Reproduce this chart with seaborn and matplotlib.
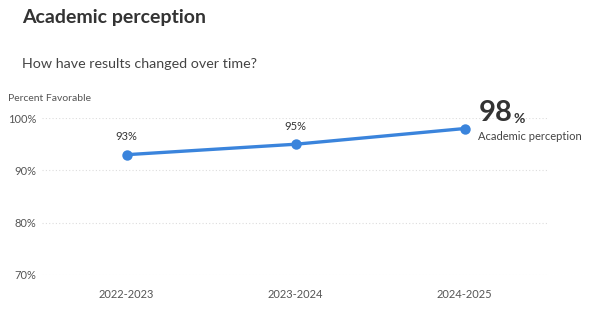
import matplotlib
matplotlib.use("Agg")
import matplotlib.pyplot as plt
import seaborn as sns
import pandas as pd

years = ["2022-2023", "2023-2024", "2024-2025"]
values = [93, 95, 98]
y_ticks = [70, 80, 90, 100]
y_tick_labels = ["70%", "80%", "90%", "100%"]
title = "Academic perception"
subtitle = "How have results changed over time?"
y_label = "Percent Favorable"
series_name = "Academic perception"

sns.set_theme(style="white")
plt.rcParams["font.family"] = ["Lato", "DejaVu Sans"]

df = pd.DataFrame({"year": years, "value": values})
line_color = "#3a84dc"

fig = plt.figure(figsize=(6, 3.28), dpi=100)
ax = fig.add_axes([0.07, 0.1616, 0.845, 0.4784])

sns.lineplot(data=df, x="year", y="value", ax=ax, color=line_color,
             linewidth=2.4, marker="o", markersize=7.5, markeredgewidth=0,
             sort=False, clip_on=False)

ax.set_xlim(-0.5, 2.5)
ax.set_ylim(70, 100)
ax.set_yticks(y_ticks)
ax.set_yticklabels(y_tick_labels)
ax.set_xlabel("")
ax.set_ylabel("")
for s in ax.spines.values():
    s.set_visible(False)
ax.grid(axis="y", linestyle=(0, (1, 2)), color="#dddddd", linewidth=0.8)
ax.set_axisbelow(True)
ax.tick_params(axis="y", labelsize=8, colors="#555555", pad=4, length=0)
ax.tick_params(axis="x", labelsize=8, colors="#555555", pad=10, length=0)

# Point labels (all but last)
for i, v in enumerate(values[:-1]):
    ax.annotate(f"{v}%", xy=(i, v), xytext=(0, 9), textcoords="offset points",
                ha="center", va="bottom", fontsize=8, color="#333333")

# Last point callout
last_i = len(values) - 1
ax.annotate(f"{values[-1]}", xy=(last_i, values[-1]), xytext=(10, 2),
            textcoords="offset points", ha="left", va="bottom",
            fontsize=21, fontweight="bold", color="#333333")
ax.annotate("%", xy=(last_i, values[-1]), xytext=(35, 2.5),
            textcoords="offset points", ha="left", va="bottom",
            fontsize=10, fontweight="bold", color="#333333")
ax.annotate(series_name, xy=(last_i, values[-1]), xytext=(10, -2),
            textcoords="offset points", ha="left", va="top",
            fontsize=8, color="#444444")

fig.text(22 / 600, 1 - 17 / 328, title, ha="left", va="center",
         fontsize=14, fontweight="bold", color="#333333")
fig.text(22 / 600, 1 - 64 / 328, subtitle, ha="left", va="center",
         fontsize=10.3, color="#444444")
fig.text(8 / 600, 1 - 99 / 328, y_label, ha="left", va="center",
         fontsize=7.5, color="#555555")

fig.savefig("out.png", dpi=100, facecolor="white")
